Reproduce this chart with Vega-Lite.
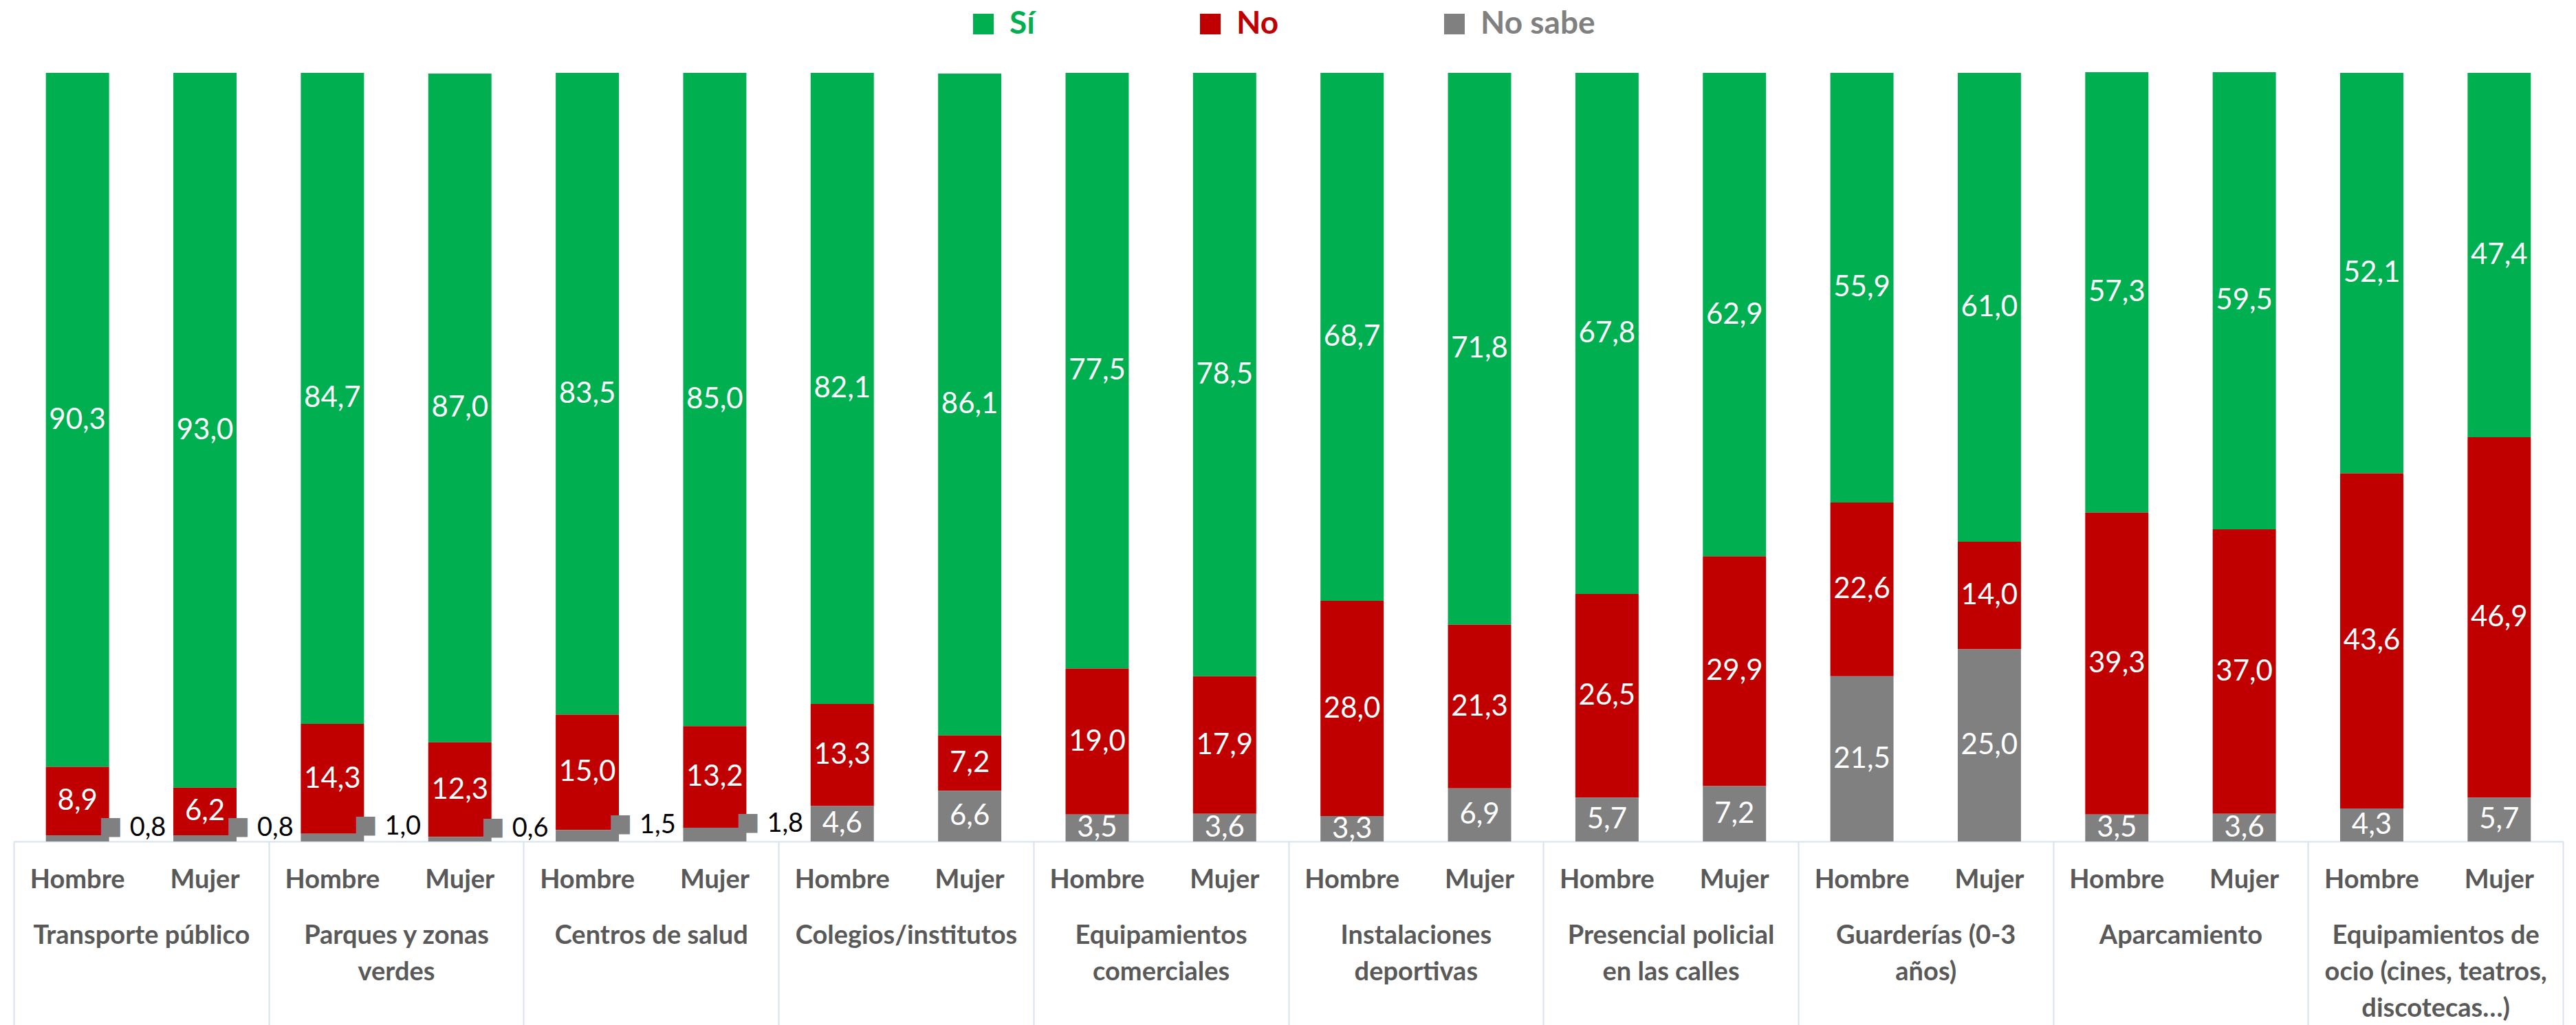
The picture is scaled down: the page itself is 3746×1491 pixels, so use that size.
{
  "$schema": "https://vega.github.io/schema/vega-lite/v6.json",
  "width": 3707,
  "height": 1118,
  "autosize": {"type": "none"},
  "padding": {"left": 20, "top": 106, "right": 19, "bottom": 267},
  "config": {
    "view": {"stroke": null},
    "font": "Lato",
    "locale": {"number": {"decimal": ",", "thousands": ".", "grouping": [3], "currency": ["", " €"]}}
  },
  "data": {"values": [
    {"cat": "Transporte público", "gender": "Hombre", "resp": "Sí", "value": 90.3},
    {"cat": "Transporte público", "gender": "Hombre", "resp": "No", "value": 8.9},
    {"cat": "Transporte público", "gender": "Hombre", "resp": "No sabe", "value": 0.8},
    {"cat": "Transporte público", "gender": "Mujer", "resp": "Sí", "value": 93.0},
    {"cat": "Transporte público", "gender": "Mujer", "resp": "No", "value": 6.2},
    {"cat": "Transporte público", "gender": "Mujer", "resp": "No sabe", "value": 0.8},
    {"cat": "Parques y zonas verdes", "gender": "Hombre", "resp": "Sí", "value": 84.7},
    {"cat": "Parques y zonas verdes", "gender": "Hombre", "resp": "No", "value": 14.3},
    {"cat": "Parques y zonas verdes", "gender": "Hombre", "resp": "No sabe", "value": 1.0},
    {"cat": "Parques y zonas verdes", "gender": "Mujer", "resp": "Sí", "value": 87.0},
    {"cat": "Parques y zonas verdes", "gender": "Mujer", "resp": "No", "value": 12.3},
    {"cat": "Parques y zonas verdes", "gender": "Mujer", "resp": "No sabe", "value": 0.6},
    {"cat": "Centros de salud", "gender": "Hombre", "resp": "Sí", "value": 83.5},
    {"cat": "Centros de salud", "gender": "Hombre", "resp": "No", "value": 15.0},
    {"cat": "Centros de salud", "gender": "Hombre", "resp": "No sabe", "value": 1.5},
    {"cat": "Centros de salud", "gender": "Mujer", "resp": "Sí", "value": 85.0},
    {"cat": "Centros de salud", "gender": "Mujer", "resp": "No", "value": 13.2},
    {"cat": "Centros de salud", "gender": "Mujer", "resp": "No sabe", "value": 1.8},
    {"cat": "Colegios/institutos", "gender": "Hombre", "resp": "Sí", "value": 82.1},
    {"cat": "Colegios/institutos", "gender": "Hombre", "resp": "No", "value": 13.3},
    {"cat": "Colegios/institutos", "gender": "Hombre", "resp": "No sabe", "value": 4.6},
    {"cat": "Colegios/institutos", "gender": "Mujer", "resp": "Sí", "value": 86.1},
    {"cat": "Colegios/institutos", "gender": "Mujer", "resp": "No", "value": 7.2},
    {"cat": "Colegios/institutos", "gender": "Mujer", "resp": "No sabe", "value": 6.6},
    {"cat": "Equipamientos comerciales", "gender": "Hombre", "resp": "Sí", "value": 77.5},
    {"cat": "Equipamientos comerciales", "gender": "Hombre", "resp": "No", "value": 19.0},
    {"cat": "Equipamientos comerciales", "gender": "Hombre", "resp": "No sabe", "value": 3.5},
    {"cat": "Equipamientos comerciales", "gender": "Mujer", "resp": "Sí", "value": 78.5},
    {"cat": "Equipamientos comerciales", "gender": "Mujer", "resp": "No", "value": 17.9},
    {"cat": "Equipamientos comerciales", "gender": "Mujer", "resp": "No sabe", "value": 3.6},
    {"cat": "Instalaciones deportivas", "gender": "Hombre", "resp": "Sí", "value": 68.7},
    {"cat": "Instalaciones deportivas", "gender": "Hombre", "resp": "No", "value": 28.0},
    {"cat": "Instalaciones deportivas", "gender": "Hombre", "resp": "No sabe", "value": 3.3},
    {"cat": "Instalaciones deportivas", "gender": "Mujer", "resp": "Sí", "value": 71.8},
    {"cat": "Instalaciones deportivas", "gender": "Mujer", "resp": "No", "value": 21.3},
    {"cat": "Instalaciones deportivas", "gender": "Mujer", "resp": "No sabe", "value": 6.9},
    {"cat": "Presencial policial en las calles", "gender": "Hombre", "resp": "Sí", "value": 67.8},
    {"cat": "Presencial policial en las calles", "gender": "Hombre", "resp": "No", "value": 26.5},
    {"cat": "Presencial policial en las calles", "gender": "Hombre", "resp": "No sabe", "value": 5.7},
    {"cat": "Presencial policial en las calles", "gender": "Mujer", "resp": "Sí", "value": 62.9},
    {"cat": "Presencial policial en las calles", "gender": "Mujer", "resp": "No", "value": 29.9},
    {"cat": "Presencial policial en las calles", "gender": "Mujer", "resp": "No sabe", "value": 7.2},
    {"cat": "Guarderías (0-3 años)", "gender": "Hombre", "resp": "Sí", "value": 55.9},
    {"cat": "Guarderías (0-3 años)", "gender": "Hombre", "resp": "No", "value": 22.6},
    {"cat": "Guarderías (0-3 años)", "gender": "Hombre", "resp": "No sabe", "value": 21.5},
    {"cat": "Guarderías (0-3 años)", "gender": "Mujer", "resp": "Sí", "value": 61.0},
    {"cat": "Guarderías (0-3 años)", "gender": "Mujer", "resp": "No", "value": 14.0},
    {"cat": "Guarderías (0-3 años)", "gender": "Mujer", "resp": "No sabe", "value": 25.0},
    {"cat": "Aparcamiento", "gender": "Hombre", "resp": "Sí", "value": 57.3},
    {"cat": "Aparcamiento", "gender": "Hombre", "resp": "No", "value": 39.3},
    {"cat": "Aparcamiento", "gender": "Hombre", "resp": "No sabe", "value": 3.5},
    {"cat": "Aparcamiento", "gender": "Mujer", "resp": "Sí", "value": 59.5},
    {"cat": "Aparcamiento", "gender": "Mujer", "resp": "No", "value": 37.0},
    {"cat": "Aparcamiento", "gender": "Mujer", "resp": "No sabe", "value": 3.6},
    {"cat": "Equipamientos de ocio (cines, teatros, discotecas…)", "gender": "Hombre", "resp": "Sí", "value": 52.1},
    {"cat": "Equipamientos de ocio (cines, teatros, discotecas…)", "gender": "Hombre", "resp": "No", "value": 43.6},
    {"cat": "Equipamientos de ocio (cines, teatros, discotecas…)", "gender": "Hombre", "resp": "No sabe", "value": 4.3},
    {"cat": "Equipamientos de ocio (cines, teatros, discotecas…)", "gender": "Mujer", "resp": "Sí", "value": 47.4},
    {"cat": "Equipamientos de ocio (cines, teatros, discotecas…)", "gender": "Mujer", "resp": "No", "value": 46.9},
    {"cat": "Equipamientos de ocio (cines, teatros, discotecas…)", "gender": "Mujer", "resp": "No sabe", "value": 5.7}
  ]},
  "transform": [
    {"calculate": "indexof(['No sabe','No','Sí'], datum.resp)", "as": "ord"},
    {"stack": "value", "groupby": ["cat", "gender"], "sort": [{"field": "ord", "order": "ascending"}], "as": ["v0", "v1"]},
    {"calculate": "(datum.v0 + datum.v1) / 2", "as": "mid"}
  ],
  "encoding": {
    "x": {
      "field": "cat", "type": "nominal", "sort": null,
      "scale": {"paddingInner": 0, "paddingOuter": 0},
      "axis": {
        "title": null,
        "labelExpr": "datum.label == 'Parques y zonas verdes' ? ['Parques y zonas', 'verdes'] : datum.label == 'Equipamientos comerciales' ? ['Equipamientos', 'comerciales'] : datum.label == 'Instalaciones deportivas' ? ['Instalaciones', 'deportivas'] : datum.label == 'Presencial policial en las calles' ? ['Presencial policial', 'en las calles'] : datum.label == 'Guarderías (0-3 años)' ? ['Guarderías (0-3', 'años)'] : datum.label == 'Equipamientos de ocio (cines, teatros, discotecas…)' ? ['Equipamientos de', 'ocio (cines, teatros,', 'discotecas…)'] : datum.label",
        "labelFont": "Lato", "labelFontSize": 38, "labelFontWeight": "bold", "labelColor": "#595959",
        "labelPadding": -149, "labelBaseline": "top", "labelLineHeight": 53, "labelAngle": 0, "labelLimit": 1000,
        "labelOverlap": false,
        "tickBand": "extent", "tickSize": 267, "tickColor": "#D6E1F2", "tickWidth": 2,
        "domainColor": "#D6E1F2", "domainWidth": 2
      }
    },
    "xOffset": {"field": "gender", "type": "nominal", "sort": ["Hombre", "Mujer"], "scale": {"paddingInner": 0.504, "paddingOuter": 0.252}}
  },
  "layer": [
    {
      "mark": {"type": "bar"},
      "encoding": {
        "y": {"field": "v1", "type": "quantitative", "scale": {"domain": [0, 100]}, "axis": null},
        "y2": {"field": "v0"},
        "color": {
          "field": "resp", "type": "nominal",
          "scale": {"domain": ["Sí", "No", "No sabe"], "range": ["#00B050", "#C00000", "#808080"]},
          "legend": {
            "title": null, "orient": "none", "legendX": 1387, "legendY": -94, "direction": "horizontal",
            "symbolType": "square", "symbolSize": 900, "symbolStrokeWidth": 0,
            "labelFont": "Lato", "labelFontSize": 46, "labelFontWeight": "bold", "labelOffset": 15,
            "labelLimit": 600, "columnPadding": 232,
            "encode": {"labels": {"update": {"fill": {"scale": "color", "field": "value"}}}}
          }
        }
      }
    },
    {
      "transform": [{"filter": "datum.value >= 2"}],
      "mark": {"type": "text", "color": "white", "fontSize": 42, "font": "Lato", "baseline": "middle"},
      "encoding": {
        "y": {"field": "mid", "type": "quantitative"},
        "text": {"field": "value", "type": "quantitative", "format": ".1f"}
      }
    },
    {
      "transform": [{"filter": "datum.resp == 'No sabe' && datum.value < 2"}],
      "mark": {"type": "text", "text": "■", "font": "DejaVu Sans", "fontSize": 36, "color": "#808080", "baseline": "middle", "dx": 48, "dy": -18},
      "encoding": {"y": {"field": "mid", "type": "quantitative"}}
    },
    {
      "transform": [{"filter": "datum.resp == 'No sabe' && datum.value < 2"}],
      "mark": {"type": "text", "align": "left", "color": "black", "fontSize": 38, "font": "Lato", "baseline": "middle", "dx": 76, "dy": -15},
      "encoding": {
        "y": {"field": "mid", "type": "quantitative"},
        "text": {"field": "value", "type": "quantitative", "format": ".1f"}
      }
    },
    {
      "transform": [{"filter": "datum.resp == 'Sí'"}],
      "mark": {"type": "text", "fontSize": 38, "font": "Lato", "fontWeight": "bold", "color": "#595959", "baseline": "alphabetic", "dy": 68},
      "encoding": {
        "y": {"datum": 0},
        "text": {"field": "gender", "type": "nominal"}
      }
    }
  ]
}
